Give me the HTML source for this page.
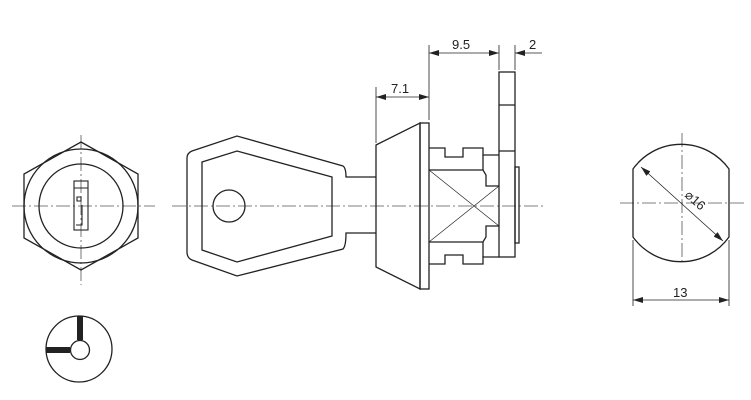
<!DOCTYPE html>
<html><head><meta charset="utf-8"><style>body{margin:0;background:#fff}svg{display:block}</style></head>
<body>
<svg width="751" height="400" viewBox="0 0 751 400" xmlns="http://www.w3.org/2000/svg" font-family="Liberation Sans, sans-serif">
<defs>
<marker id="a" viewBox="0 0 10 6" refX="10" refY="3" markerWidth="10" markerHeight="6" orient="auto-start-reverse" markerUnits="userSpaceOnUse"><path d="M0,0L10,3L0,6z" fill="#222"/></marker>
</defs>
<g fill="none" stroke="#222" stroke-width="1.3">
<g stroke="#555" stroke-width="0.8" stroke-dasharray="14,3,2,3">
<line x1="12" y1="206" x2="155" y2="206"/>
<line x1="81" y1="135" x2="81" y2="285"/>
<line x1="172" y1="206" x2="545" y2="206"/>
<line x1="620" y1="203" x2="745" y2="203"/>
<line x1="682" y1="133" x2="682" y2="265"/>
</g>
<polygon points="81,142 138,174 138,238 81,270 24,238 24,174"/>
<circle cx="81" cy="206" r="57"/>
<circle cx="81" cy="206" r="42"/>
<rect x="74" y="181" width="14" height="49" stroke-width="1.1"/>
<path d="M74,188H88M77,197h4v4h-4zM82,205V225H76" stroke-width="1.1"/>
<circle cx="79" cy="349" r="33"/>
<circle cx="80" cy="350" r="9.5"/>
<path d="M80,316V340M46,350H70" stroke-width="6"/>
<path d="M376,177H346Q346,168 343,166L237,136L192,151Q187,153 187,158V252Q187,258 192,260L237,276L343,249Q346,246 346,233H376"/>
<polygon points="202,162 237,151 332,177 332,236 237,262 202,250"/>
<circle cx="229" cy="206" r="16"/>
<polygon points="376,145 420,123 420,289 376,267"/>
<rect x="420" y="123" width="9" height="166"/>
<path d="M429,148H445V157H463V148H483V155H499M429,264H445V255H463V264H483V257H499"/>
<path d="M429,170H483L486,175V186L499,186M429,242H483L486,237V226L499,226"/>
<path d="M483,155V170M483,242V257"/>
<path d="M429,170L499,226M429,242L499,186" stroke-width="0.7"/>
<rect x="499" y="72" width="16" height="185"/>
<path d="M499,105H515M499,151H515"/>
<rect x="515" y="167" width="4" height="76"/>
<g stroke-width="0.8">
<path d="M376,143V87M429,120V45M499,70V45M515,70V45"/>
<line x1="376" y1="97" x2="429" y2="97" marker-start="url(#a)" marker-end="url(#a)"/>
<line x1="429" y1="53" x2="499" y2="53" marker-start="url(#a)" marker-end="url(#a)"/>
<line x1="542" y1="53" x2="515" y2="53" marker-end="url(#a)"/>
</g>
<path d="M633,169A59,59 0 0 1 729,169V237A59,59 0 0 1 633,237Z"/>
<g stroke-width="0.8">
<line x1="641" y1="167" x2="723" y2="241" marker-start="url(#a)" marker-end="url(#a)"/>
<path d="M633,240V306M729,240V306"/>
<line x1="633" y1="300" x2="729" y2="300" marker-start="url(#a)" marker-end="url(#a)"/>
</g>
</g>
<g fill="#222" font-size="13">
<text x="391" y="93">7.1</text>
<text x="452" y="49">9.5</text>
<text x="529" y="49">2</text>
<text x="673" y="297">13</text>
<text x="0" y="0" transform="translate(684,196) rotate(42)">⌀16</text>
</g>
</svg>
</body></html>
